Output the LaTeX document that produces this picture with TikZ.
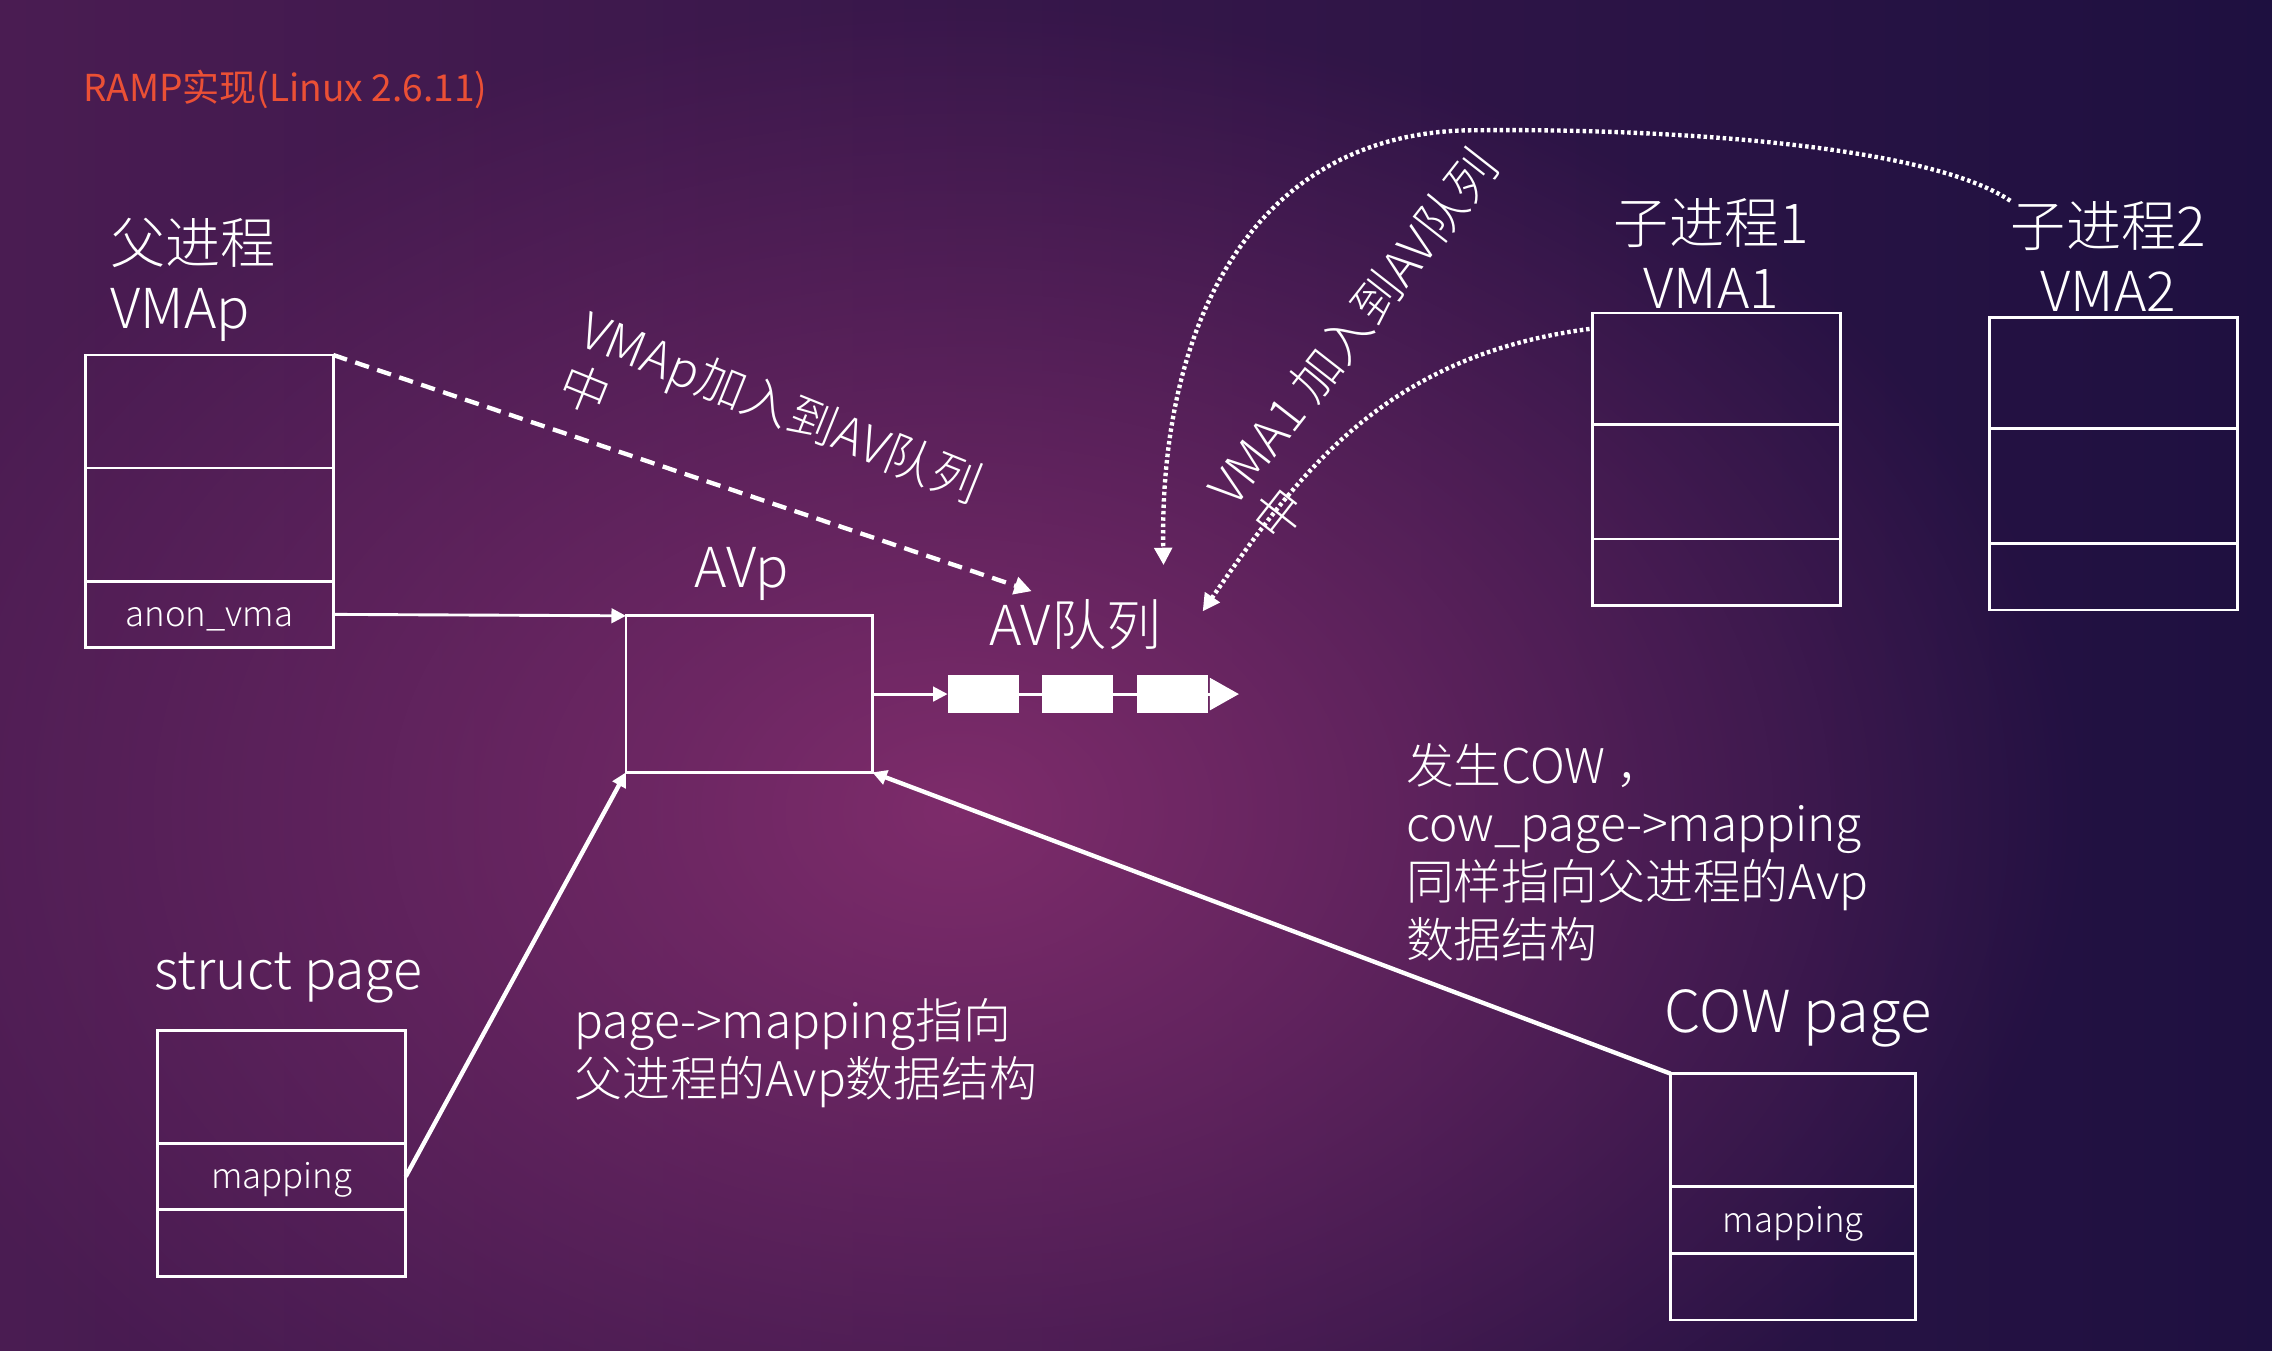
\documentclass[tikz,border=0pt]{standalone}
\usepackage{fontspec}
\IfFontExistsTF{Noto Sans CJK SC Light}{\setmainfont{Noto Sans CJK SC Light}}{\setmainfont{Noto Sans CJK SC}}
\newfontfamily\titlefont{Noto Sans CJK SC}
\usetikzlibrary{arrows.meta,positioning,fadings}

\definecolor{bgleft}{HTML}{4A1C52}
\definecolor{bgmid}{HTML}{66255F}
\definecolor{bgright}{HTML}{1E1040}
\definecolor{bgglow}{HTML}{7E2C6B}
\definecolor{titlered}{HTML}{EB5035}

\tikzfading[name=glowfade, inner color=transparent!0, outer color=transparent!100]

\tikzset{
  cell/.style={draw=white, line width=1pt, minimum width=85.5pt, inner sep=0pt,
    outer sep=0pt, anchor=north west, text=white, text height=10pt, text depth=1.5pt,
    font=\fontsize{12}{14}\selectfont},
  lbl/.style={text=white, inner sep=0pt},
  bigtxt/.style={lbl, font=\fontsize{19}{22.5}\selectfont},
  notetxt/.style={lbl, font=\fontsize{16.5}{20}\selectfont},
  jointxt/.style={lbl, align=left, font=\fontsize{17}{19.5}\selectfont},
  link/.style={draw=white, line width=1pt, -{Triangle[length=5pt,width=5pt]}},
  dashlink/.style={draw=white, line width=1.5pt, dash pattern=on 5pt off 3pt,
    -{Triangle[length=6pt,width=6pt]}},
  dotlink/.style={draw=white, line width=1.5pt, dash pattern=on 1.2pt off 1pt,
    -{Triangle[length=6pt,width=6pt]}},
  qblock/.style={fill=white, minimum width=24.5pt, minimum height=13pt,
    inner sep=0pt, outer sep=0pt},
}

\begin{document}
\begin{tikzpicture}[x=0.5pt, y=-0.5pt]
	\useasboundingbox (0,0) rectangle (1568,932);

	% Background
	\shade[left color=bgleft, middle color=bgmid, right color=bgright] (0,0) rectangle (1568,932);
	\fill[bgglow, path fading=glowfade] (660,560) ellipse (780 and 560);

	% Title
	\node[lbl, text=titlered, anchor=west, font=\titlefont\fontsize{12.8}{15}\selectfont] (title) at (57,62) {RAMP实现(Linux 2.6.11)};

	% Parent VMAp
	\node[bigtxt, align=left, anchor=west] (plbl) at (76,193) {父进程\\VMAp};
	\node[cell, minimum height=39pt] (vp1) at (59,245) {};
	\node[cell, minimum height=39pt, below=0pt of vp1] (vp2) {};
	\node[cell, minimum height=23pt, below=0pt of vp2] (vp3) {anon\_vma};

	% AVp and AV queue
	\node[bigtxt] (avplbl) at (512,396) {AVp};
	\node[cell, minimum width=85pt, minimum height=54pt] (avp) at (432,425) {};
	\node[bigtxt] (avqlbl) at (742,431) {AV队列};
	\node[qblock] (q1) at (678.5,479) {};
	\node[qblock] (q2) at (743.5,479) {};
	\node[qblock] (q3) at (809.5,479) {};
	\coordinate (qend) at (855,479);
	\coordinate (avqin) at (712,408);

	% Child 1 VMA1
	\node[bigtxt, align=center] (c1lbl) at (1181,175) {子进程1\\VMA1};
	\node[cell, minimum height=38.5pt] (c1a) at (1099,216) {};
	\node[cell, minimum height=39.5pt, below=0pt of c1a] (c1b) {};
	\node[cell, minimum height=23pt, below=0pt of c1b] (c1c) {};
	\coordinate (c1tail) at (1097,227);

	% Child 2 VMA2
	\node[bigtxt, align=center] (c2lbl) at (1455,177) {子进程2\\VMA2};
	\node[cell, minimum height=38.5pt] (c2a) at (1373,219) {};
	\node[cell, minimum height=39.5pt, below=0pt of c2a] (c2b) {};
	\node[cell, minimum height=23pt, below=0pt of c2b] (c2c) {};

	% struct page
	\node[bigtxt, font=\fontsize{18.5}{22.5}\selectfont] (splbl) at (199,675) {struct page};
	\node[cell, minimum height=39pt] (sp1) at (109,711) {};
	\node[cell, minimum height=23pt, below=0pt of sp1] (sp2) {mapping};
	\node[cell, minimum height=23pt, below=0pt of sp2] (sp3) {};

	% COW page
	\node[bigtxt, font=\fontsize{20}{22.5}\selectfont] (cwlbl) at (1241,703) {COW page};
	\node[cell, minimum width=84.5pt, minimum height=39pt] (cw1) at (1153,741) {};
	\node[cell, minimum width=84.5pt, minimum height=23pt, below=0pt of cw1] (cw2) {mapping};
	\node[cell, minimum width=84.5pt, minimum height=23pt, below=0pt of cw2] (cw3) {};

	% Notes
	\node[notetxt, align=left, anchor=west] (note1) at (396,727) {page->mapping指向\\父进程的Avp数据结构};
	\node[notetxt, align=left, anchor=west] (note2) at (970,588) {发生COW ，\\cow\_page->mapping\\同样指向父进程的Avp\\数据结构};
	\node[jointxt, rotate=-22] (join1) at (532,299) {VMAp加入到AV队列\\中};
	\node[jointxt, rotate=52] (join2) at (949,238) {VMA1 加入到AV队列\\中};

	% Links
	\draw[link] (vp3.east) -- (avp.north west);
	\draw[link] (avp.east) -- (q1.west);
	\draw[white, line width=1pt] (q1.east) -- (q2.west) (q2.east) -- (q3.west);
	\draw[white, line width=1pt, -{Triangle[length=10pt,width=11pt]}] (q3.east) -- (qend);
	\draw[link, line width=1.5pt] (sp2.east) -- (avp.south west);
	\draw[link, line width=1.5pt] (cw1.north west) -- (avp.south east);
	\draw[dashlink] (vp1.north east) -- (avqin);
	\draw[dotlink] (c2lbl.north west) .. controls (1330,100) and (1150,88) .. (1010,90)
		.. controls (860,95) and (800,230) .. (803,390);
	\draw[dotlink] (c1tail) .. controls (960,245) and (900,320) .. (830,422);
\end{tikzpicture}
\end{document}
